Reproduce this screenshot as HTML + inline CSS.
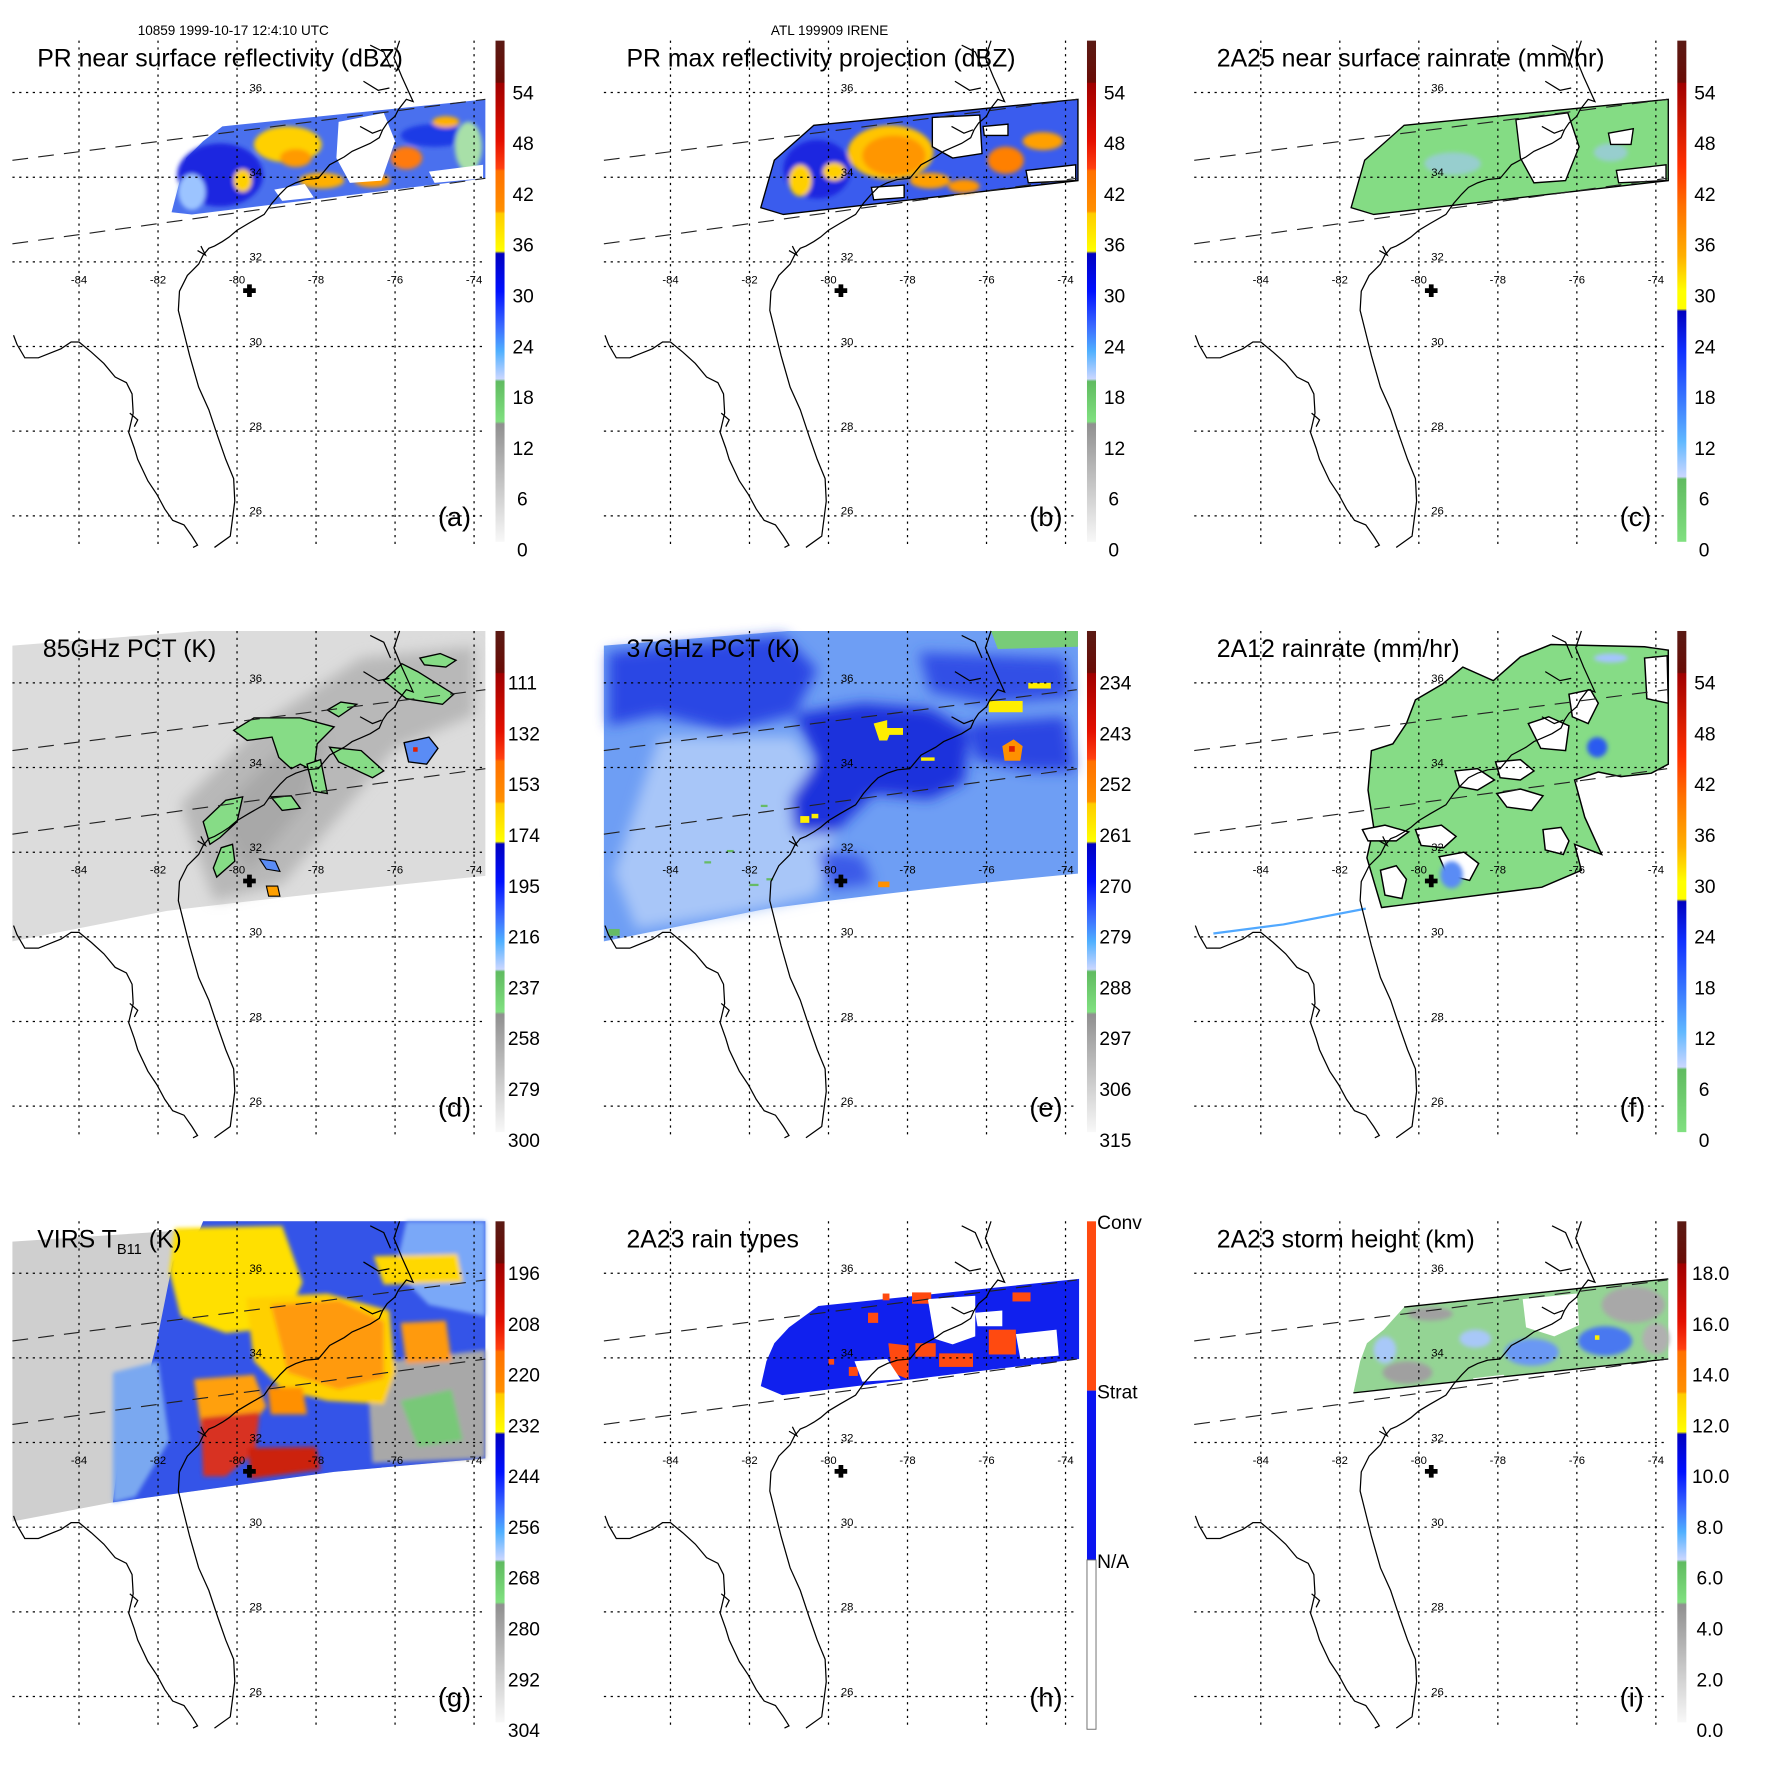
<!DOCTYPE html>
<html><head><meta charset="utf-8"><style>
html,body{margin:0;padding:0;background:#fff}
svg{display:block}
text{font-family:"Liberation Sans",Arial,sans-serif;fill:#000}
.t{font-size:22px}
.ll{font-size:10px}
.lo{font-size:10px;text-anchor:middle}
.cb{font-size:17px}
.pl{font-size:24px}
</style></head><body>
<svg width="1771" height="1771" viewBox="0 0 1569 1569" xmlns="http://www.w3.org/2000/svg">
<defs>
<linearGradient id="gA" x1="0" y1="0" x2="0" y2="1">
<stop offset="0" stop-color="#5a1a14"/><stop offset="0.083" stop-color="#6a0c06"/>
<stop offset="0.085" stop-color="#a00000"/><stop offset="0.2" stop-color="#e41000"/>
<stop offset="0.255" stop-color="#ff4010"/><stop offset="0.26" stop-color="#ff7000"/>
<stop offset="0.34" stop-color="#ff9000"/><stop offset="0.345" stop-color="#ffcc00"/>
<stop offset="0.42" stop-color="#ffff00"/><stop offset="0.425" stop-color="#0000c0"/>
<stop offset="0.5" stop-color="#0010ff"/><stop offset="0.57" stop-color="#3a6aff"/>
<stop offset="0.62" stop-color="#50b0ff"/><stop offset="0.675" stop-color="#cad6ff"/>
<stop offset="0.68" stop-color="#60bb60"/><stop offset="0.76" stop-color="#80e080"/>
<stop offset="0.765" stop-color="#909090"/><stop offset="1" stop-color="#f8f8f8"/>
</linearGradient>
<linearGradient id="gC" x1="0" y1="0" x2="0" y2="1">
<stop offset="0" stop-color="#5a1a14"/><stop offset="0.083" stop-color="#6a0c06"/>
<stop offset="0.085" stop-color="#a00000"/><stop offset="0.25" stop-color="#ff3000"/>
<stop offset="0.33" stop-color="#ff7000"/><stop offset="0.43" stop-color="#ffb000"/>
<stop offset="0.5" stop-color="#ffff00"/><stop offset="0.535" stop-color="#ffff00"/>
<stop offset="0.54" stop-color="#0000c0"/><stop offset="0.62" stop-color="#1030ff"/>
<stop offset="0.72" stop-color="#3a7aff"/><stop offset="0.8" stop-color="#60b8ff"/>
<stop offset="0.87" stop-color="#cad6ff"/><stop offset="0.875" stop-color="#60bb60"/>
<stop offset="1" stop-color="#80e080"/>
</linearGradient>
<filter id="bl" x="-20%" y="-20%" width="140%" height="140%"><feGaussianBlur stdDeviation="6"/></filter>
<filter id="bl2" x="-20%" y="-20%" width="140%" height="140%"><feGaussianBlur stdDeviation="2"/></filter>
<g id="base">
<g stroke="#000" stroke-width="1.1" stroke-dasharray="2,4" fill="none">
<path d="M70,36V486M140,36V486M210,36V486M280,36V486M350,36V486M420,36V486"/>
<path d="M11,82H430M11,157H430M11,232H430M11,307H430M11,382H430M11,457H430"/>
</g>
<path d="M11,142L430,88M11,216L430,158" stroke="#222" stroke-width="1" stroke-dasharray="14,9" fill="none"/>
<path fill="none" stroke="#000" stroke-width="1.1" d="M12,297L15,305L22,317L34,317L54,309L63,303L70,303L81,312L92,322L102,334L112,339L117,349L118,366L114,383L119,397L122,407L131,426L139,438L146,451L153,461L163,465L170,475L175,483L171,485M190,485L204,475L208,444L207,424L200,407L193,387L185,363L176,343L168,315L163,295L158,275L159,258L163,250L166,244L170,240L176,234L180,226L185,220L190,218L197,214L203,210L210,204L220,198L234,190L241,180L248,172L254,166L262,162L271,159L282,158L292,146L305,139L312,134L319,131L328,127L336,122L339,115L343,109L350,103L353,97L360,88L366,90L356,68L349,51L354,36M319,112L330,118L338,115M322,72L335,80L345,78M328,40L340,46L346,60M175,222L182,226L178,218M115,366L122,372L119,378"/>
<path d="M216,256h10v3h-10zM219.5,252.5h3v10h-3z" fill="#000" stroke="#000" stroke-width="1.2"/>
</g>
</defs>
<rect width="1569" height="1569" fill="#fff"/>
<text x="122" y="31" style="font-size:12px">10859 1999-10-17 12:4:10 UTC</text>
<text x="683" y="31" style="font-size:12px">ATL 199909 IRENE</text>

<!-- PANEL A -->
<g transform="translate(0,0)">
<path d="M197,112L430,88L430,158L170,190L152,188L158,165L165,140L180,125Z" fill="#4a70ee"/>
<g filter="url(#bl2)">
<ellipse cx="195" cy="155" rx="38" ry="28" fill="#1a28e0"/>
<ellipse cx="170" cy="170" rx="12" ry="16" fill="#9cc4ff"/>
<ellipse cx="255" cy="128" rx="30" ry="16" fill="#ffd000"/>
<ellipse cx="262" cy="140" rx="14" ry="8" fill="#ff9a00"/>
<ellipse cx="285" cy="160" rx="20" ry="7" fill="#ffb000"/>
<ellipse cx="215" cy="160" rx="8" ry="10" fill="#ffd000"/>
<ellipse cx="360" cy="140" rx="14" ry="10" fill="#ff7a10"/>
<ellipse cx="385" cy="120" rx="30" ry="10" fill="#1f3ae6"/>
<ellipse cx="395" cy="108" rx="12" ry="5" fill="#ffb000"/>
<ellipse cx="330" cy="160" rx="16" ry="6" fill="#ff9a00"/>
<ellipse cx="415" cy="130" rx="12" ry="22" fill="#a8e0a8"/>
</g>
<path d="M300,108L340,100L350,125L338,160L310,162L298,140Z" fill="#fff"/>
<path d="M243,168L270,163L278,175L250,178Z" fill="#fff"/>
<path d="M380,152L428,146L428,158L385,162Z" fill="#fff"/>
<use href="#base"/>
<rect x="439" y="36" width="8" height="444" fill="url(#gA)"/>
<text class="t" x="33" y="59">PR near surface reflectivity (dBZ)</text>
<text class="pl" x="388" y="466">(a)</text>
<text class="cb" x="454" y="88">54</text><text class="cb" x="454" y="133">48</text><text class="cb" x="454" y="178">42</text><text class="cb" x="454" y="223">36</text><text class="cb" x="454" y="268">30</text><text class="cb" x="454" y="313">24</text><text class="cb" x="454" y="358">18</text><text class="cb" x="454" y="403">12</text><text class="cb" x="458" y="448">6</text><text class="cb" x="458" y="493">0</text>
<text class="ll" x="221" y="81">36</text><text class="ll" x="221" y="156">34</text><text class="ll" x="221" y="231">32</text><text class="ll" x="221" y="306">30</text><text class="ll" x="221" y="381">28</text><text class="ll" x="221" y="456">26</text>
<text class="lo" x="70" y="251">-84</text><text class="lo" x="140" y="251">-82</text><text class="lo" x="210" y="251">-80</text><text class="lo" x="280" y="251">-78</text><text class="lo" x="350" y="251">-76</text><text class="lo" x="420" y="251">-74</text>
</g>

<!-- PANEL B -->
<g transform="translate(524,0)">
<path d="M197,111L431,88L431,160L170,190L150,184L162,142Z" fill="#3a5cee" stroke="#000" stroke-width="1.2"/>
<g filter="url(#bl2)">
<ellipse cx="200" cy="150" rx="30" ry="26" fill="#1a28e0"/>
<ellipse cx="265" cy="135" rx="38" ry="24" fill="#ffc400"/>
<ellipse cx="268" cy="138" rx="28" ry="18" fill="#ff9600"/>
<ellipse cx="185" cy="160" rx="10" ry="14" fill="#ffd000"/>
<ellipse cx="215" cy="152" rx="10" ry="8" fill="#ffd000"/>
<ellipse cx="300" cy="160" rx="18" ry="7" fill="#ffa000"/>
<ellipse cx="367" cy="142" rx="16" ry="12" fill="#ff8000"/>
<ellipse cx="400" cy="125" rx="18" ry="8" fill="#ffa000"/>
<ellipse cx="330" cy="165" rx="14" ry="6" fill="#ff9600"/>
</g>
<path d="M302,104L344,102L346,136L320,140L302,130Z" fill="#fff" stroke="#000" stroke-width="1.2"/>
<path d="M347,112L369,110L369,120L348,120Z" fill="#fff" stroke="#000" stroke-width="1.2"/>
<path d="M385,151L429,146L429,160L387,162Z" fill="#fff" stroke="#000" stroke-width="1.2"/>
<path d="M248,166L277,164L277,175L250,177Z" fill="#fff" stroke="#000" stroke-width="1.2"/>
<use href="#base"/>
<rect x="439" y="36" width="8" height="444" fill="url(#gA)"/>
<text class="t" x="31" y="59">PR max reflectivity projection (dBZ)</text>
<text class="pl" x="388" y="466">(b)</text>
<text class="cb" x="454" y="88">54</text><text class="cb" x="454" y="133">48</text><text class="cb" x="454" y="178">42</text><text class="cb" x="454" y="223">36</text><text class="cb" x="454" y="268">30</text><text class="cb" x="454" y="313">24</text><text class="cb" x="454" y="358">18</text><text class="cb" x="454" y="403">12</text><text class="cb" x="458" y="448">6</text><text class="cb" x="458" y="493">0</text>
<text class="ll" x="221" y="81">36</text><text class="ll" x="221" y="156">34</text><text class="ll" x="221" y="231">32</text><text class="ll" x="221" y="306">30</text><text class="ll" x="221" y="381">28</text><text class="ll" x="221" y="456">26</text>
<text class="lo" x="70" y="251">-84</text><text class="lo" x="140" y="251">-82</text><text class="lo" x="210" y="251">-80</text><text class="lo" x="280" y="251">-78</text><text class="lo" x="350" y="251">-76</text><text class="lo" x="420" y="251">-74</text>
</g>

<!-- PANEL C -->
<g transform="translate(1047,0)">
<path d="M197,111L431,88L431,160L170,190L150,184L162,142Z" fill="#84dc84" stroke="#000" stroke-width="1.2"/>
<g filter="url(#bl2)">
<ellipse cx="240" cy="145" rx="25" ry="10" fill="#a4c4ff" opacity="0.6"/>
<ellipse cx="380" cy="135" rx="15" ry="8" fill="#a4c4ff" opacity="0.6"/>
</g>
<path d="M296,106L342,100L352,130L340,160L312,162L300,140Z" fill="#fff" stroke="#000" stroke-width="1.2"/>
<path d="M378,118L400,114L398,128L380,128Z" fill="#fff" stroke="#000" stroke-width="1.2"/>
<path d="M385,151L429,146L429,160L387,162Z" fill="#fff" stroke="#000" stroke-width="1.2"/>
<use href="#base"/>
<rect x="439" y="36" width="8" height="444" fill="url(#gC)"/>
<text class="t" x="31" y="59">2A25 near surface rainrate (mm/hr)</text>
<text class="pl" x="388" y="466">(c)</text>
<text class="cb" x="454" y="88">54</text><text class="cb" x="454" y="133">48</text><text class="cb" x="454" y="178">42</text><text class="cb" x="454" y="223">36</text><text class="cb" x="454" y="268">30</text><text class="cb" x="454" y="313">24</text><text class="cb" x="454" y="358">18</text><text class="cb" x="454" y="403">12</text><text class="cb" x="458" y="448">6</text><text class="cb" x="458" y="493">0</text>
<text class="ll" x="221" y="81">36</text><text class="ll" x="221" y="156">34</text><text class="ll" x="221" y="231">32</text><text class="ll" x="221" y="306">30</text><text class="ll" x="221" y="381">28</text><text class="ll" x="221" y="456">26</text>
<text class="lo" x="70" y="251">-84</text><text class="lo" x="140" y="251">-82</text><text class="lo" x="210" y="251">-80</text><text class="lo" x="280" y="251">-78</text><text class="lo" x="350" y="251">-76</text><text class="lo" x="420" y="251">-74</text>
</g>

<!-- PANEL D -->
<g transform="translate(0,523)">
<path d="M11,49L177,36L430,36L430,253Q300,266 148,284L11,311Z" fill="#dcdcdc"/>
<g filter="url(#bl)">
<path d="M160,190L230,120L320,60L420,50L420,110L350,140L300,200L250,260L190,275Z" fill="#b8b8b8"/>
<path d="M190,200L250,140L290,130L270,190L220,250Z" fill="#a8a8a8"/>
</g>
<g fill="#86dc86" stroke="#000" stroke-width="1.2">
<path d="M207,124L225,113L266,113L296,121L281,136L278,160L266,154L258,158L247,148L241,130L219,133Z"/>
<path d="M272,154L284,150L290,180L278,178Z"/>
<path d="M292,139L320,142L340,160L330,166L300,152Z"/>
<path d="M180,205L200,186L215,183L210,205L195,219L186,225Z"/>
<path d="M196,228L206,225L208,240L192,254L189,246Z"/>
<path d="M240,183L258,182L266,193L250,195Z"/>
<path d="M290,106L302,99L316,101L300,112Z"/>
<path d="M340,80L356,65L370,72L402,92L392,101L360,96Z"/>
<path d="M372,60L390,56L404,62L395,68L376,66Z"/>
</g>
<path d="M358,135L380,130L388,140L378,154L362,152Z" fill="#5a8cf5" stroke="#000" stroke-width="1.2"/>
<rect x="366" y="139" width="4" height="4" fill="#e02000"/>
<path d="M230,238L244,240L248,249L236,247Z" fill="#5a8cf5" stroke="#000"/>
<path d="M236,262L246,262L248,271L238,271Z" fill="#ffa000" stroke="#000"/>
<use href="#base"/>
<rect x="439" y="36" width="8" height="444" fill="url(#gA)"/>
<text class="t" x="38" y="59">85GHz PCT (K)</text>
<text class="pl" x="388" y="466">(d)</text>
<text class="cb" x="450" y="88">111</text><text class="cb" x="450" y="133">132</text><text class="cb" x="450" y="178">153</text><text class="cb" x="450" y="223">174</text><text class="cb" x="450" y="268">195</text><text class="cb" x="450" y="313">216</text><text class="cb" x="450" y="358">237</text><text class="cb" x="450" y="403">258</text><text class="cb" x="450" y="448">279</text><text class="cb" x="450" y="493">300</text>
<text class="ll" x="221" y="81">36</text><text class="ll" x="221" y="156">34</text><text class="ll" x="221" y="231">32</text><text class="ll" x="221" y="306">30</text><text class="ll" x="221" y="381">28</text><text class="ll" x="221" y="456">26</text>
<text class="lo" x="70" y="251">-84</text><text class="lo" x="140" y="251">-82</text><text class="lo" x="210" y="251">-80</text><text class="lo" x="280" y="251">-78</text><text class="lo" x="350" y="251">-76</text><text class="lo" x="420" y="251">-74</text>
</g>

<!-- PANEL E -->
<g transform="translate(524,523)">
<path d="M11,49L174,36L431,36L431,251Q300,263 156,282L11,311Z" fill="#6e9ef4"/>
<g filter="url(#bl)">
<path d="M15,55L170,40L200,70L180,110L120,125L60,110L15,120Z" fill="#2a46e4"/>
<path d="M60,130L180,130L220,200L200,270L150,282L40,300L20,250Z" fill="#a8c6f8"/>
<path d="M180,110L240,100L300,105L335,125L330,170L300,185L250,180L215,215L180,215L176,185L200,150Z" fill="#1a30dc"/>
<path d="M290,55L420,60L425,95L350,100L300,90Z" fill="#3050e6"/>
<path d="M334,118L420,112L428,160L390,160L340,150Z" fill="#2a44e2"/>
<path d="M200,230L240,235L250,260L210,265Z" fill="#3a5ae8"/>
</g>
<path d="M354,36L431,36L431,50L360,52Z" fill="#78cc78"/>
<g fill="#ffee00">
<path d="M250,118L262,115L262,122L276,122L276,128L264,128L262,133L255,133Z"/>
<rect x="352" y="98" width="30" height="10"/>
<rect x="387" y="82" width="20" height="5"/>
<rect x="292" y="148" width="12" height="3"/>
<rect x="185" y="200" width="8" height="6"/>
<rect x="195" y="198" width="6" height="4"/>
</g>
<path d="M364,138L374,132L382,138L380,151L366,151Z" fill="#ff9000"/>
<rect x="370" y="138" width="5" height="5" fill="#e02000"/>
<rect x="254" y="258" width="10" height="5" fill="#ff9000"/>
<g fill="#66bb66"><rect x="150" y="190" width="6" height="2"/><rect x="120" y="230" width="6" height="2"/><rect x="140" y="260" width="8" height="2"/><rect x="100" y="240" width="6" height="2"/><rect x="155" y="255" width="6" height="2"/><rect x="15" y="300" width="10" height="6"/></g>
<use href="#base"/>
<rect x="439" y="36" width="8" height="444" fill="url(#gA)"/>
<text class="t" x="31" y="59">37GHz PCT (K)</text>
<text class="pl" x="388" y="466">(e)</text>
<text class="cb" x="450" y="88">234</text><text class="cb" x="450" y="133">243</text><text class="cb" x="450" y="178">252</text><text class="cb" x="450" y="223">261</text><text class="cb" x="450" y="268">270</text><text class="cb" x="450" y="313">279</text><text class="cb" x="450" y="358">288</text><text class="cb" x="450" y="403">297</text><text class="cb" x="450" y="448">306</text><text class="cb" x="450" y="493">315</text>
<text class="ll" x="221" y="81">36</text><text class="ll" x="221" y="156">34</text><text class="ll" x="221" y="231">32</text><text class="ll" x="221" y="306">30</text><text class="ll" x="221" y="381">28</text><text class="ll" x="221" y="456">26</text>
<text class="lo" x="70" y="251">-84</text><text class="lo" x="140" y="251">-82</text><text class="lo" x="210" y="251">-80</text><text class="lo" x="280" y="251">-78</text><text class="lo" x="350" y="251">-76</text><text class="lo" x="420" y="251">-74</text>
</g>

<!-- PANEL F -->
<g transform="translate(1047,523)">
<path d="M168,142L165,177L170,210L164,237L177,281L319,263L354,248L348,225L372,234L357,201L348,168L369,161L389,165L416,162L431,154L431,53L410,50L327,48L300,59L276,80L249,68L231,83L207,97L199,118L187,136Z" fill="#86dc86" stroke="#000" stroke-width="1.3"/>
<g fill="#fff" stroke="#000" stroke-width="1.3">
<path d="M242,160L262,158L277,168L262,177L246,174Z"/>
<path d="M278,152L300,150L312,160L300,168L282,166Z"/>
<path d="M279,180L300,176L320,182L310,195L288,192Z"/>
<path d="M307,118L325,112L343,120L340,142L318,140Z"/>
<path d="M343,92L362,88L369,100L360,118L346,112Z"/>
<path d="M160,212L180,208L201,214L190,222L165,222Z"/>
<path d="M207,212L230,208L243,218L232,228L212,226Z"/>
<path d="M228,236L250,232L263,242L255,257L235,252Z"/>
<path d="M176,248L190,244L199,256L195,273L180,270Z"/>
<path d="M320,212L336,210L343,222L338,234L322,230Z"/>
<path d="M410,60L430,58L431,100L412,96Z"/>
</g>
<g filter="url(#bl2)">
<ellipse cx="368" cy="139" rx="9" ry="9" fill="#2a5af0"/>
<ellipse cx="239" cy="252" rx="10" ry="12" fill="#5a8cf5"/>
<ellipse cx="380" cy="60" rx="15" ry="4" fill="#a4c4ff"/>
</g>
<path d="M28,304L90,296L163,282" stroke="#50a8ff" stroke-width="2" fill="none"/>
<use href="#base"/>
<rect x="439" y="36" width="8" height="444" fill="url(#gC)"/>
<text class="t" x="31" y="59">2A12 rainrate (mm/hr)</text>
<text class="pl" x="388" y="466">(f)</text>
<text class="cb" x="454" y="88">54</text><text class="cb" x="454" y="133">48</text><text class="cb" x="454" y="178">42</text><text class="cb" x="454" y="223">36</text><text class="cb" x="454" y="268">30</text><text class="cb" x="454" y="313">24</text><text class="cb" x="454" y="358">18</text><text class="cb" x="454" y="403">12</text><text class="cb" x="458" y="448">6</text><text class="cb" x="458" y="493">0</text>
<text class="ll" x="221" y="81">36</text><text class="ll" x="221" y="156">34</text><text class="ll" x="221" y="231">32</text><text class="ll" x="221" y="306">30</text><text class="ll" x="221" y="381">28</text><text class="ll" x="221" y="456">26</text>
<text class="lo" x="70" y="251">-84</text><text class="lo" x="140" y="251">-82</text><text class="lo" x="210" y="251">-80</text><text class="lo" x="280" y="251">-78</text><text class="lo" x="350" y="251">-76</text><text class="lo" x="420" y="251">-74</text>
</g>

<!-- PANEL G -->
<g transform="translate(0,1046)">
<path d="M11,54L177,43L180,36L430,36L430,246L296,258L100,285L11,302Z" fill="#cfcfcf"/>
<path d="M180,36L430,36L430,246L296,258L100,285L106,237L123,207L138,147L153,72L177,43Z" fill="#3454e8"/>
<g filter="url(#bl2)">
<path d="M360,36L430,36L430,120L380,110L350,80Z" fill="#7aa8f8"/>
<path d="M325,162L430,150L430,246L330,250Z" fill="#a8a8a8"/>
<path d="M100,170L140,160L150,230L120,280L100,285Z" fill="#7aa8f0"/>
<path d="M155,42L250,40L268,90L250,130L200,135L160,120L150,80Z" fill="#ffe000"/>
<path d="M331,67L405,65L410,90L340,92Z" fill="#ffd800"/>
<path d="M218,104L290,100L345,115L350,170L340,198L290,195L250,185L225,160Z" fill="#ffd000"/>
<path d="M240,110L300,106L340,125L340,175L300,185L255,170Z" fill="#ff9a10"/>
<path d="M355,126L395,124L400,160L360,162Z" fill="#ff9a10"/>
<path d="M172,176L225,172L236,200L222,218L178,218Z" fill="#ffa010"/>
<path d="M237,183L268,183L272,207L240,207Z" fill="#ff9000"/>
<path d="M178,210L230,205L226,240L200,262L180,262Z" fill="#d83020"/>
<path d="M220,237L280,236L284,256L222,264Z" fill="#cc2010"/>
<path d="M355,195L400,185L410,230L370,236Z" fill="#78c878"/>
</g>
<use href="#base"/>
<rect x="439" y="36" width="8" height="444" fill="url(#gA)"/>
<text class="t" x="33" y="59">VIRS T<tspan style="font-size:13px" dy="6">B11</tspan><tspan dy="-6"> (K)</tspan></text>
<text class="pl" x="388" y="466">(g)</text>
<text class="cb" x="450" y="88">196</text><text class="cb" x="450" y="133">208</text><text class="cb" x="450" y="178">220</text><text class="cb" x="450" y="223">232</text><text class="cb" x="450" y="268">244</text><text class="cb" x="450" y="313">256</text><text class="cb" x="450" y="358">268</text><text class="cb" x="450" y="403">280</text><text class="cb" x="450" y="448">292</text><text class="cb" x="450" y="493">304</text>
<text class="ll" x="221" y="81">36</text><text class="ll" x="221" y="156">34</text><text class="ll" x="221" y="231">32</text><text class="ll" x="221" y="306">30</text><text class="ll" x="221" y="381">28</text><text class="ll" x="221" y="456">26</text>
<text class="lo" x="70" y="251">-84</text><text class="lo" x="140" y="251">-82</text><text class="lo" x="210" y="251">-80</text><text class="lo" x="280" y="251">-78</text><text class="lo" x="350" y="251">-76</text><text class="lo" x="420" y="251">-74</text>
</g>

<!-- PANEL H -->
<g transform="translate(524,1046)">
<path d="M201,111L432,87L432,158L169,190L150,182L155,160L162,144L175,130Z" fill="#1020ee"/>
<g fill="#ff4a10">
<path d="M263,144L281,146L281,176L266,170Z"/>
<rect x="287" y="144" width="18" height="12"/>
<rect x="352" y="132" width="24" height="22"/>
<rect x="308" y="153" width="30" height="12"/>
<rect x="245" y="117" width="9" height="9"/>
<rect x="284" y="99" width="17" height="10"/>
<rect x="373" y="99" width="16" height="8"/>
<rect x="228" y="165" width="8" height="8"/>
<rect x="258" y="100" width="6" height="6"/>
<rect x="210" y="158" width="5" height="5"/>
</g>
<g fill="#fff">
<path d="M298,105L340,102L340,138L320,145L304,140Z"/>
<path d="M340,117L364,115L364,129L342,129Z"/>
<path d="M376,136L412,132L414,155L380,158Z"/>
<path d="M233,160L262,158L274,176L240,178Z"/>
</g>
<use href="#base"/>
<rect x="439" y="36" width="8" height="150" fill="#ff4a10"/>
<rect x="439" y="186" width="8" height="150" fill="#0a14f0"/>
<rect x="439" y="336" width="8" height="150" fill="#fff" stroke="#666" stroke-width="0.8"/>
<text class="t" x="31" y="59">2A23 rain types</text>
<text class="pl" x="388" y="466">(h)</text>
<text class="cb" x="448" y="43">Conv</text>
<text class="cb" x="448" y="193">Strat</text>
<text class="cb" x="448" y="343">N/A</text>
<text class="ll" x="221" y="81">36</text><text class="ll" x="221" y="156">34</text><text class="ll" x="221" y="231">32</text><text class="ll" x="221" y="306">30</text><text class="ll" x="221" y="381">28</text><text class="ll" x="221" y="456">26</text>
<text class="lo" x="70" y="251">-84</text><text class="lo" x="140" y="251">-82</text><text class="lo" x="210" y="251">-80</text><text class="lo" x="280" y="251">-78</text><text class="lo" x="350" y="251">-76</text><text class="lo" x="420" y="251">-74</text>
</g>

<!-- PANEL I -->
<g transform="translate(1047,1046)">
<path d="M197,112L431,87L431,158L152,188L158,160L164,144L179,132Z" fill="#94d494"/>
<g filter="url(#bl2)">
<ellipse cx="220" cy="118" rx="20" ry="6" fill="#a0a0a0"/>
<ellipse cx="200" cy="170" rx="22" ry="10" fill="#a0a0a0"/>
<ellipse cx="400" cy="110" rx="28" ry="16" fill="#a8a8a8"/>
<ellipse cx="420" cy="140" rx="12" ry="14" fill="#b0b0b0"/>
<ellipse cx="260" cy="140" rx="14" ry="8" fill="#a8c8f8"/>
<ellipse cx="180" cy="150" rx="10" ry="12" fill="#a8c8f8"/>
<ellipse cx="310" cy="152" rx="24" ry="12" fill="#6a98f4"/>
<ellipse cx="375" cy="142" rx="24" ry="13" fill="#4a78f0"/>
</g>
<path d="M302,105L350,100L352,128L330,138L305,130Z" fill="#fff"/>
<path d="M258,175L285,172L290,180L262,183Z" fill="#fff"/>
<rect x="366" y="137" width="4" height="4" fill="#ffee00"/>
<path d="M197,112L431,87M152,188L431,158" stroke="#000" stroke-width="1.2" fill="none"/>
<use href="#base"/>
<rect x="439" y="36" width="8" height="444" fill="url(#gA)"/>
<text class="t" x="31" y="59">2A23 storm height (km)</text>
<text class="pl" x="388" y="466">(i)</text>
<text class="cb" x="452" y="88">18.0</text><text class="cb" x="452" y="133">16.0</text><text class="cb" x="452" y="178">14.0</text><text class="cb" x="452" y="223">12.0</text><text class="cb" x="452" y="268">10.0</text><text class="cb" x="456" y="313">8.0</text><text class="cb" x="456" y="358">6.0</text><text class="cb" x="456" y="403">4.0</text><text class="cb" x="456" y="448">2.0</text><text class="cb" x="456" y="493">0.0</text>
<text class="ll" x="221" y="81">36</text><text class="ll" x="221" y="156">34</text><text class="ll" x="221" y="231">32</text><text class="ll" x="221" y="306">30</text><text class="ll" x="221" y="381">28</text><text class="ll" x="221" y="456">26</text>
<text class="lo" x="70" y="251">-84</text><text class="lo" x="140" y="251">-82</text><text class="lo" x="210" y="251">-80</text><text class="lo" x="280" y="251">-78</text><text class="lo" x="350" y="251">-76</text><text class="lo" x="420" y="251">-74</text>
</g>
</svg>
</body></html>
